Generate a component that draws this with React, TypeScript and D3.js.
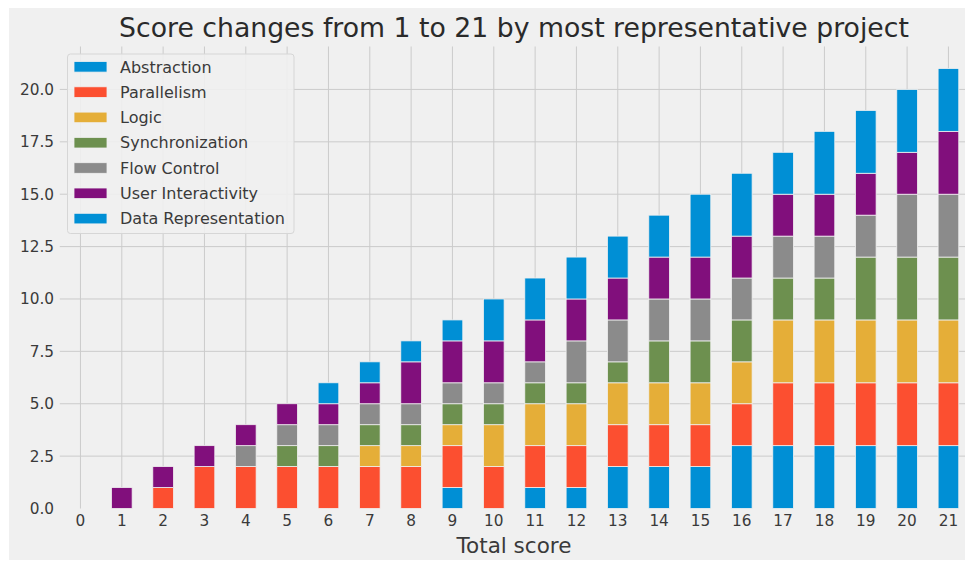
import React from "react";
import * as d3 from "d3";

const categories = ["0","1","2","3","4","5","6","7","8","9","10","11","12","13","14","15","16","17","18","19","20","21"];
const seriesNames = ["Abstraction","Parallelism","Logic","Synchronization","Flow Control","User Interactivity","Data Representation"];
const abstraction =        [0,0,0,0,0,0,0,0,0,1,0,1,1,2,2,2,3,3,3,3,3,3];
const parallelism =        [0,0,1,2,2,2,2,2,2,2,2,2,2,2,2,2,2,3,3,3,3,3];
const logic =              [0,0,0,0,0,0,0,1,1,1,2,2,2,2,2,2,2,3,3,3,3,3];
const synchronization =    [0,0,0,0,0,1,1,1,1,1,1,1,1,1,2,2,2,2,2,3,3,3];
const flowControl =        [0,0,0,0,1,1,1,1,1,1,1,1,2,2,2,2,2,2,2,2,3,3];
const userInteractivity =  [0,1,1,1,1,1,1,1,2,2,2,2,2,2,2,2,2,2,2,2,2,3];
const dataRepresentation = [0,0,0,0,0,0,1,1,1,1,2,2,2,2,2,3,3,2,3,3,3,3];
const yTicks = [0, 2.5, 5, 7.5, 10, 12.5, 15, 17.5, 20];

const colors = ["#008fd5","#fc4f30","#e5ae38","#6d904f","#8b8b8b","#810f7c","#008fd5"];
const seriesValues = [abstraction, parallelism, logic, synchronization, flowControl, userInteractivity, dataRepresentation];

export default function App() {
  const W = 965, H = 561;
  const left = 59.8, right = 969.1, top = 46.5, bottom = 508.5;
  const x = d3.scaleBand<string>().domain(categories).range([left, right]).paddingInner(0.5).paddingOuter(0.25);
  const y = d3.scaleLinear().domain([0, 22.05]).range([bottom, top]);

  const table = categories.map((c, i) => {
    const row: any = { cat: c };
    seriesNames.forEach((s, k) => { row[s] = seriesValues[k][i]; });
    return row;
  });
  const stacked = d3.stack<any>().keys(seriesNames)(table);
  const font = "DejaVu Sans, sans-serif";
  const textColor = "#3a3a3a";

  const legX = 67.5, legY = 54;
  return (
    <svg width={W} height={H} style={{ display: "block", position: "absolute", left: 0, top: 0 }} fontFamily={font}>
      <rect x={0} y={0} width={W} height={H} fill="#ffffff" />
      <rect x={9} y={8} width={W - 9} height={552} fill="#f0f0f0" />
      {/* grid */}
      <g stroke="#cbcbcb" strokeWidth={1}>
        {yTicks.filter(t => t > 0).map(t => (
          <line key={"gy" + t} x1={left} x2={right} y1={y(t)} y2={y(t)} />
        ))}
        {categories.map(c => {
          const cx = (x(c) as number) + x.bandwidth() / 2;
          return <line key={"gx" + c} x1={cx} x2={cx} y1={top} y2={bottom} />;
        })}
      </g>
      {/* bars */}
      <g>
        {stacked.map((layer, k) => (
          <g key={layer.key} fill={colors[k]}>
            {layer.map((d, i) => {
              const h = y(d[0]) - y(d[1]);
              if (h <= 0) return null;
              return (
                <rect key={i} x={x(categories[i]) as number} y={y(d[1])} width={x.bandwidth()} height={h}
                  stroke="#f0f0f0" strokeWidth={0.8} />
              );
            })}
          </g>
        ))}
      </g>
      {/* y tick labels */}
      <g fontSize={15.3} fill={textColor} textAnchor="end">
        {yTicks.map(t => (
          <text key={"yt" + t} x={54} y={y(t)} dy="0.36em">{t.toFixed(1)}</text>
        ))}
      </g>
      {/* x tick labels */}
      <g fontSize={15.3} fill={textColor} textAnchor="middle">
        {categories.map(c => (
          <text key={"xt" + c} x={(x(c) as number) + x.bandwidth() / 2} y={526}>{c}</text>
        ))}
      </g>
      <text x={514} y={553.3} fontSize={21.5} fill={textColor} textAnchor="middle">Total score</text>
      <text x={514} y={36.7} fontSize={26.7} fill="#2a2a2a" textAnchor="middle">Score changes from 1 to 21 by most representative project</text>
      {/* legend */}
      <g>
        <rect x={legX} y={legY} width={226.5} height={179.5} rx={3} fill="#f0f0f0" fillOpacity={0.9} stroke="#d6d6d6" strokeWidth={1} />
        {seriesNames.map((s, k) => {
          const cy = 66.8 + k * 25.3;
          return (
            <g key={"leg" + s}>
              <rect x={74} y={cy - 5.3} width={33} height={10.6} fill={colors[k]} stroke="#f0f0f0" strokeWidth={0.8} />
              <text x={120} y={cy} dy="0.36em" fontSize={16} fill={textColor}>{s}</text>
            </g>
          );
        })}
      </g>
    </svg>
  );
}
